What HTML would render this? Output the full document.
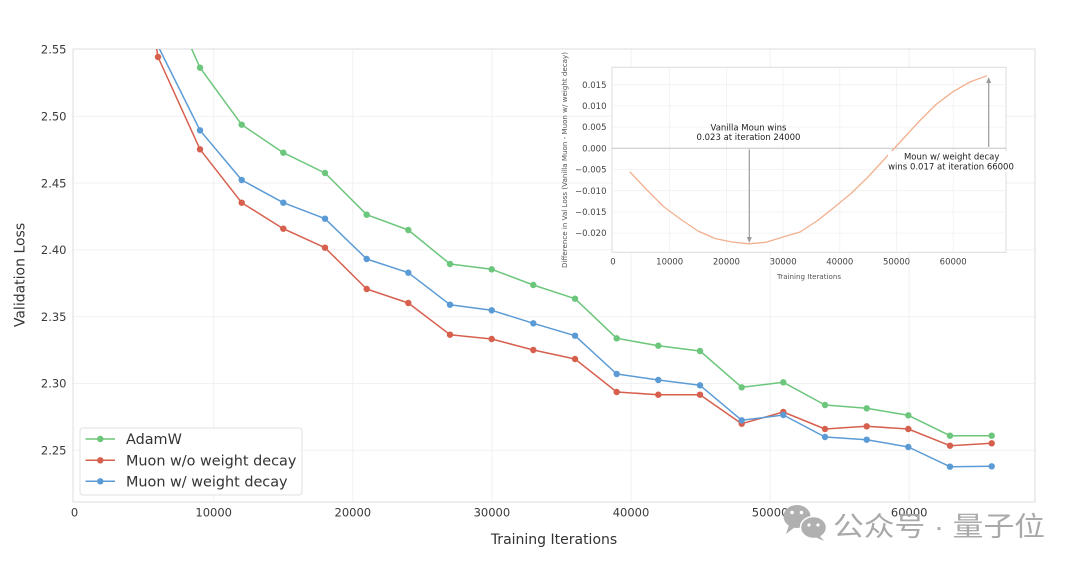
<!DOCTYPE html>
<html>
<head>
<meta charset="utf-8">
<style>
  html,body{margin:0;padding:0;background:#ffffff;}
  body{width:1080px;height:568px;overflow:hidden;}
  svg{display:block;}
  text{font-family:"DejaVu Sans","Liberation Sans",sans-serif;}
  .cjk{font-family:"Liberation Sans","Noto Sans CJK SC",sans-serif;}
</style>
</head>
<body>
<svg width="1080" height="568" viewBox="0 0 1080 568" xmlns="http://www.w3.org/2000/svg">
  <defs>
    <clipPath id="mainclip"><rect x="73" y="49" width="962" height="453"/></clipPath>
    <clipPath id="insetclip"><rect x="612" y="67.3" width="394" height="185"/></clipPath>
  </defs>
  <rect x="0" y="0" width="1080" height="568" fill="#ffffff"/>

  <!-- main grid -->
  <g stroke="#f1f1f1" stroke-width="1">
    <line x1="213.7" y1="49" x2="213.7" y2="502"/>
    <line x1="352.8" y1="49" x2="352.8" y2="502"/>
    <line x1="491.9" y1="49" x2="491.9" y2="502"/>
    <line x1="631" y1="49" x2="631" y2="502"/>
    <line x1="770.1" y1="49" x2="770.1" y2="502"/>
    <line x1="909.2" y1="49" x2="909.2" y2="502"/>
    <line x1="73" y1="116.3" x2="1035" y2="116.3"/>
    <line x1="73" y1="183.1" x2="1035" y2="183.1"/>
    <line x1="73" y1="249.9" x2="1035" y2="249.9"/>
    <line x1="73" y1="316.7" x2="1035" y2="316.7"/>
    <line x1="73" y1="383.5" x2="1035" y2="383.5"/>
    <line x1="73" y1="450.3" x2="1035" y2="450.3"/>
  </g>
  <rect x="73" y="49" width="962" height="453" fill="none" stroke="#dedede" stroke-width="1"/>

  <!-- y tick labels -->
  <g font-size="11.5" fill="#3a3a3a" text-anchor="end">
    <text x="66.5" y="53.5">2.55</text>
    <text x="66.5" y="120.5">2.50</text>
    <text x="66.5" y="187.3">2.45</text>
    <text x="66.5" y="254.1">2.40</text>
    <text x="66.5" y="320.9">2.35</text>
    <text x="66.5" y="387.7">2.30</text>
    <text x="66.5" y="454.5">2.25</text>
  </g>
  <!-- x tick labels -->
  <g font-size="11.5" fill="#3a3a3a" text-anchor="middle">
    <text x="74.6" y="516.5">0</text>
    <text x="213.7" y="516.5">10000</text>
    <text x="352.8" y="516.5">20000</text>
    <text x="491.9" y="516.5">30000</text>
    <text x="631" y="516.5">40000</text>
    <text x="770.1" y="516.5">50000</text>
    <text x="909.2" y="516.5">60000</text>
  </g>
  <text x="554" y="544" font-size="14" fill="#333" text-anchor="middle">Training Iterations</text>
  <text transform="translate(24.5,275) rotate(-90)" font-size="14" fill="#333" text-anchor="middle">Validation Loss</text>

  <!-- series -->
  <g clip-path="url(#mainclip)" fill="none" stroke-width="1.5" stroke-linejoin="round">
    <polyline stroke="#6cc67b" points="116.3,-180 158,-27 200,67.7 241.7,124.7 283.3,152.7 325,173 366.7,214.7 408.3,230 450,264 491.7,269.3 533.3,285 575,298.7 616.7,338.3 658.3,345.7 700,351 741.7,387.3 783.3,382.3 825,405 866.7,408.3 908.3,415.3 950,435.7 991.7,435.7"/>
    <polyline stroke="#d6604d" points="116.3,-193 158,57 200,149.3 241.7,202.7 283.3,228.7 325,247.7 366.7,289 408.3,303 450,334.7 491.7,339 533.3,350 575,359 616.7,392 658.3,394.7 700,394.7 741.7,423.7 783.3,412 825,429 866.7,426.3 908.3,429 950,445.7 991.7,443.3"/>
    <polyline stroke="#5b9bd5" points="116.3,-160 158,46 200,130.3 241.7,180 283.3,202.7 325,218.7 366.7,259 408.3,272.7 450,304.7 491.7,310.3 533.3,323.3 575,335.7 616.7,374 658.3,380 700,385.3 741.7,420.3 783.3,415 825,437 866.7,439.7 908.3,447 950,466.7 991.7,466.3"/>
  </g>
  <g clip-path="url(#mainclip)">
    <g fill="#6cc67b">
      <circle cx="200" cy="67.7" r="3.2"/><circle cx="241.7" cy="124.7" r="3.2"/><circle cx="283.3" cy="152.7" r="3.2"/><circle cx="325" cy="173" r="3.2"/><circle cx="366.7" cy="214.7" r="3.2"/><circle cx="408.3" cy="230" r="3.2"/><circle cx="450" cy="264" r="3.2"/><circle cx="491.7" cy="269.3" r="3.2"/><circle cx="533.3" cy="285" r="3.2"/><circle cx="575" cy="298.7" r="3.2"/><circle cx="616.7" cy="338.3" r="3.2"/><circle cx="658.3" cy="345.7" r="3.2"/><circle cx="700" cy="351" r="3.2"/><circle cx="741.7" cy="387.3" r="3.2"/><circle cx="783.3" cy="382.3" r="3.2"/><circle cx="825" cy="405" r="3.2"/><circle cx="866.7" cy="408.3" r="3.2"/><circle cx="908.3" cy="415.3" r="3.2"/><circle cx="950" cy="435.7" r="3.2"/><circle cx="991.7" cy="435.7" r="3.2"/>
    </g>
    <g fill="#d6604d">
      <circle cx="158" cy="57" r="3.2"/><circle cx="200" cy="149.3" r="3.2"/><circle cx="241.7" cy="202.7" r="3.2"/><circle cx="283.3" cy="228.7" r="3.2"/><circle cx="325" cy="247.7" r="3.2"/><circle cx="366.7" cy="289" r="3.2"/><circle cx="408.3" cy="303" r="3.2"/><circle cx="450" cy="334.7" r="3.2"/><circle cx="491.7" cy="339" r="3.2"/><circle cx="533.3" cy="350" r="3.2"/><circle cx="575" cy="359" r="3.2"/><circle cx="616.7" cy="392" r="3.2"/><circle cx="658.3" cy="394.7" r="3.2"/><circle cx="700" cy="394.7" r="3.2"/><circle cx="741.7" cy="423.7" r="3.2"/><circle cx="783.3" cy="412" r="3.2"/><circle cx="825" cy="429" r="3.2"/><circle cx="866.7" cy="426.3" r="3.2"/><circle cx="908.3" cy="429" r="3.2"/><circle cx="950" cy="445.7" r="3.2"/><circle cx="991.7" cy="443.3" r="3.2"/>
    </g>
    <g fill="#5b9bd5">
      <circle cx="200" cy="130.3" r="3.2"/><circle cx="241.7" cy="180" r="3.2"/><circle cx="283.3" cy="202.7" r="3.2"/><circle cx="325" cy="218.7" r="3.2"/><circle cx="366.7" cy="259" r="3.2"/><circle cx="408.3" cy="272.7" r="3.2"/><circle cx="450" cy="304.7" r="3.2"/><circle cx="491.7" cy="310.3" r="3.2"/><circle cx="533.3" cy="323.3" r="3.2"/><circle cx="575" cy="335.7" r="3.2"/><circle cx="616.7" cy="374" r="3.2"/><circle cx="658.3" cy="380" r="3.2"/><circle cx="700" cy="385.3" r="3.2"/><circle cx="741.7" cy="420.3" r="3.2"/><circle cx="783.3" cy="415" r="3.2"/><circle cx="825" cy="437" r="3.2"/><circle cx="866.7" cy="439.7" r="3.2"/><circle cx="908.3" cy="447" r="3.2"/><circle cx="950" cy="466.7" r="3.2"/><circle cx="991.7" cy="466.3" r="3.2"/>
    </g>
  </g>

  <!-- legend -->
  <rect x="80" y="428" width="222" height="67" rx="3" ry="3" fill="#ffffff" fill-opacity="0.85" stroke="#e0e0e0" stroke-width="1"/>
  <line x1="85.5" y1="439" x2="115" y2="439" stroke="#6cc67b" stroke-width="1.5"/>
  <circle cx="100.3" cy="439" r="3.2" fill="#6cc67b"/>
  <line x1="85.5" y1="460.3" x2="115" y2="460.3" stroke="#d6604d" stroke-width="1.5"/>
  <circle cx="100.3" cy="460.3" r="3.2" fill="#d6604d"/>
  <line x1="85.5" y1="481.3" x2="115" y2="481.3" stroke="#5b9bd5" stroke-width="1.5"/>
  <circle cx="100.3" cy="481.3" r="3.2" fill="#5b9bd5"/>
  <g font-size="14.4" fill="#333">
    <text x="126" y="444.2">AdamW</text>
    <text x="126" y="465.5">Muon w/o weight decay</text>
    <text x="126" y="486.5">Muon w/ weight decay</text>
  </g>

  <!-- inset -->
  <rect x="612" y="67.3" width="394" height="185" fill="#ffffff" stroke="#dcdcdc" stroke-width="1"/>
  <g stroke="#f0f0f0" stroke-width="0.8">
    <line x1="669.7" y1="67.3" x2="669.7" y2="252.3"/>
    <line x1="726.4" y1="67.3" x2="726.4" y2="252.3"/>
    <line x1="783.1" y1="67.3" x2="783.1" y2="252.3"/>
    <line x1="839.8" y1="67.3" x2="839.8" y2="252.3"/>
    <line x1="896.5" y1="67.3" x2="896.5" y2="252.3"/>
    <line x1="953.2" y1="67.3" x2="953.2" y2="252.3"/>
    <line x1="612" y1="84.7" x2="1006" y2="84.7"/>
    <line x1="612" y1="105.9" x2="1006" y2="105.9"/>
    <line x1="612" y1="127.1" x2="1006" y2="127.1"/>
    <line x1="612" y1="169.5" x2="1006" y2="169.5"/>
    <line x1="612" y1="190.7" x2="1006" y2="190.7"/>
    <line x1="612" y1="211.9" x2="1006" y2="211.9"/>
    <line x1="612" y1="233.1" x2="1006" y2="233.1"/>
  </g>
  <line x1="612" y1="148.3" x2="1006" y2="148.3" stroke="#c4c4c4" stroke-width="1"/>
  <g clip-path="url(#insetclip)">
    <polyline fill="none" stroke="#f2b08e" stroke-width="1.3" stroke-linejoin="round" points="630,172 647,190 664,207 681,219.5 698,231 715,238.5 732,242 749,243.8 766,242.3 783,237 800,232 817,221 834,207.5 851,193.5 868,177 885,158.5 902,140 919,121.5 936,104.5 953,91.7 970,82 987,75.7"/>
  </g>
  <!-- inset tick labels -->
  <g font-size="8.5" fill="#444" text-anchor="end">
    <text x="606.5" y="87.8">0.015</text>
    <text x="606.5" y="109">0.010</text>
    <text x="606.5" y="130.2">0.005</text>
    <text x="606.5" y="151.4">0.000</text>
    <text x="606.5" y="172.6">−0.005</text>
    <text x="606.5" y="193.8">−0.010</text>
    <text x="606.5" y="215">−0.015</text>
    <text x="606.5" y="236.2">−0.020</text>
  </g>
  <g font-size="8.5" fill="#444" text-anchor="middle">
    <text x="613" y="264.3">0</text>
    <text x="669.7" y="264.3">10000</text>
    <text x="726.4" y="264.3">20000</text>
    <text x="783.1" y="264.3">30000</text>
    <text x="839.8" y="264.3">40000</text>
    <text x="896.5" y="264.3">50000</text>
    <text x="953.2" y="264.3">60000</text>
  </g>
  <text x="809" y="279" font-size="7.1" fill="#555" text-anchor="middle">Training Iterations</text>
  <text transform="translate(567,160) rotate(-90)" font-size="7" fill="#555" text-anchor="middle" textLength="216" lengthAdjust="spacingAndGlyphs">Difference in Val Loss (Vanilla Muon - Muon w/ weight decay)</text>

  <!-- annotations -->
  <line x1="749.3" y1="149.5" x2="749.3" y2="238" stroke="#9a9a9a" stroke-width="1.2"/>
  <polygon points="746.8,237 751.8,237 749.3,243" fill="#9a9a9a"/>
  <line x1="988.7" y1="147" x2="988.7" y2="82" stroke="#9a9a9a" stroke-width="1.2"/>
  <polygon points="986.2,83 991.2,83 988.7,77" fill="#9a9a9a"/>
  <g font-size="8.5" fill="#222" text-anchor="middle">
    <text x="748.5" y="130.3">Vanilla Moun wins</text>
    <text x="748.5" y="140">0.023 at iteration 24000</text>
  </g>
  <rect x="888" y="151" width="126" height="21" fill="#ffffff"/>
  <g font-size="8.5" fill="#222" text-anchor="middle">
    <text x="951.7" y="159.5">Moun w/ weight decay</text>
    <text x="951" y="169.3">wins 0.017 at iteration 66000</text>
  </g>

  <!-- watermark -->
  <g fill="#b0b0b0">
    <ellipse cx="797" cy="516.5" rx="13.5" ry="11.5"/>
    <polygon points="789,525 786,534 795,527"/>
    <ellipse cx="813.5" cy="527.5" rx="13" ry="11" stroke="#ffffff" stroke-width="1.5"/>
    <polygon points="819,535 824,541 815,537"/>
  </g>
  <g fill="#ffffff">
    <circle cx="792" cy="512.5" r="1.8"/>
    <circle cx="801.5" cy="512.5" r="1.8"/>
    <circle cx="809" cy="525" r="1.6"/>
    <circle cx="818" cy="525" r="1.6"/>
  </g>
  <text class="cjk" x="833" y="536" font-size="27" fill="#a9a9a9" textLength="212" lengthAdjust="spacingAndGlyphs">公众号 · 量子位</text>
</svg>
</body>
</html>
